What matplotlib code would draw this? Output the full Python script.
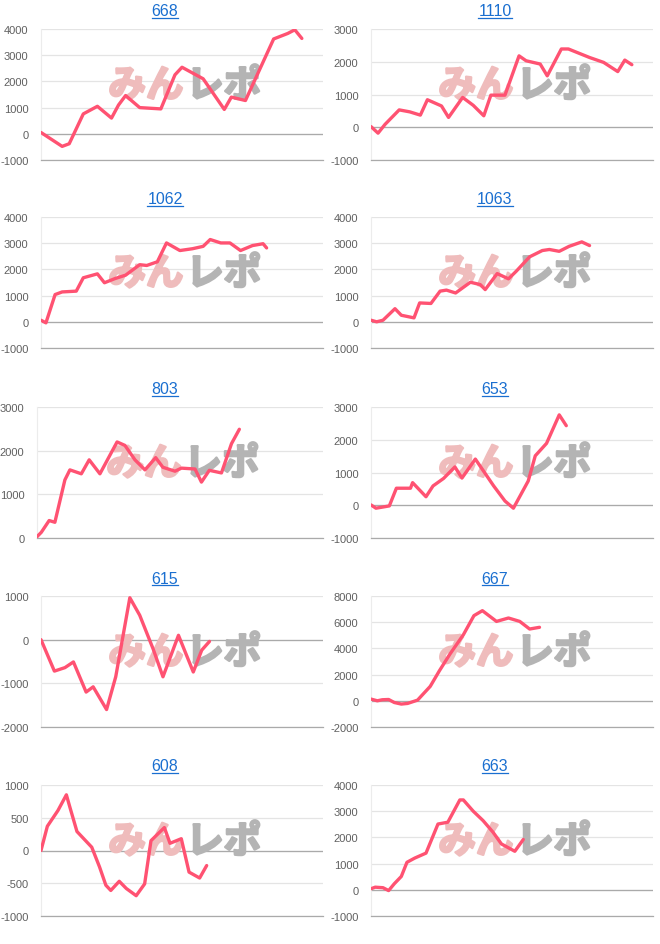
import matplotlib
matplotlib.use('Agg')
import matplotlib.pyplot as plt
import matplotlib.patheffects as pe
from matplotlib.lines import Line2D

plt.rcParams['axes.unicode_minus'] = False

titles = ['668', '1110', '1062', '1063', '803', '653', '615', '667', '608', '663']

# x = day index on a 40-slot axis, y = balance
x_668 = [0, 3, 4, 6, 8, 10, 11, 12, 14, 17, 19, 20, 23, 26, 27, 29, 33, 35, 36, 37]
y_668 = [50, -480, -380, 760, 1050, 600, 1100, 1460, 1000, 950, 2250, 2540, 2100, 930, 1400, 1270,
         3620, 3830, 3970, 3640]

x_1110 = [0, 1, 2, 4, 5.5, 7, 8, 10, 11, 13, 14.5, 16, 17, 19, 21, 22, 24, 25, 27, 28, 31, 33, 35, 36, 37]
y_1110 = [20, -180, 90, 530, 470, 370, 840, 650, 300, 910, 670, 350, 980, 980, 2180, 2030, 1930, 1570,
          2390, 2390, 2130, 1980, 1700, 2050, 1910]

x_1062 = [0, 0.7, 2, 3, 5, 6, 8, 9, 10.5, 12, 14, 15, 16.5, 17.8, 19.7, 21.5, 23, 24, 25.5, 26.8, 28.3, 30,
          31.5, 32]
y_1062 = [60, -40, 1040, 1140, 1170, 1680, 1830, 1490, 1650, 1780, 2180, 2150, 2290, 3010, 2720, 2790, 2880,
          3140, 3010, 3010, 2720, 2910, 2980, 2820]

x_1063 = [0, 0.8, 1.7, 3.4, 4.3, 6.1, 6.9, 8.5, 9.8, 10.7, 12, 14.1, 15.5, 16.2, 17.9, 19.5, 20.6, 22.5,
          24.3, 25.3, 26.7, 28.1, 29.9, 31]
y_1063 = [60, 0, 60, 500, 250, 150, 720, 700, 1170, 1210, 1100, 1510, 1420, 1230, 1840, 1640, 1930, 2480,
          2720, 2760, 2690, 2880, 3050, 2910]

x_803 = [0, 0.6, 1.7, 2.5, 3.9, 4.6, 6.2, 7.3, 8.8, 11.2, 12.3, 13.7, 15.1, 16.6, 17.6, 19.3, 20.2, 22.1,
         23, 24.1, 25.8, 27.2, 28.3]
y_803 = [30, 130, 400, 360, 1330, 1560, 1470, 1790, 1470, 2200, 2120, 1790, 1560, 1840, 1620, 1530, 1600,
         1580, 1280, 1550, 1490, 2160, 2490]

x_653 = [0, 0.7, 1.8, 2.6, 3.6, 5.6, 5.9, 7.8, 8.8, 10.3, 11.9, 12.9, 14.8, 17.4, 19, 20.2, 22.3, 23.3,
         24.9, 26.7, 27.7]
y_653 = [10, -90, -50, -20, 520, 520, 690, 260, 590, 820, 1170, 830, 1410, 590, 130, -90, 740, 1510, 1890,
         2760, 2430]

x_615 = [0, 1.9, 3.4, 4.6, 6.4, 7.4, 9.3, 10.6, 12.6, 14, 15.9, 17.3, 19.5, 21.6, 22.8, 23.9]
y_615 = [0, -720, -640, -510, -1200, -1080, -1600, -850, 960, 560, -210, -850, 100, -740, -240, -40]

x_667 = [0, 0.9, 1.6, 2.5, 3.3, 4.3, 5.2, 6.6, 7.3, 8.4, 9.7, 11.2, 13.1, 14.6, 15.8, 17.8, 19.5, 21.1,
         22.5, 23.9]
y_667 = [130, 0, 80, 100, -130, -250, -200, 50, 460, 1100, 2290, 3570, 5040, 6500, 6880, 6060, 6320, 6060,
         5480, 5610]

x_608 = [0, 0.9, 2.4, 3.6, 4.1, 5.1, 7.2, 8.3, 9.2, 9.9, 11.1, 12.1, 13.5, 14.7, 15.6, 17.5, 18.3, 19.9,
         21, 22.5, 23.5]
y_608 = [0, 370, 610, 850, 660, 290, 50, -250, -530, -610, -470, -580, -690, -510, 150, 350, 110, 180,
         -330, -420, -230]

x_663 = [0, 0.6, 1.7, 2.5, 3.3, 4.3, 5.1, 6.2, 7.8, 9.5, 10.9, 12.6, 13.1, 14.5, 15.9, 17.3, 18.5, 20.4,
         21.6]
y_663 = [40, 100, 80, -30, 230, 510, 1050, 1210, 1400, 2510, 2580, 3430, 3430, 3000, 2640, 2200, 1750,
         1470, 1920]

ticks_668 = [-1000, 0, 1000, 2000, 3000, 4000]
ticks_1110 = [-1000, 0, 1000, 2000, 3000]
ticks_1062 = [-1000, 0, 1000, 2000, 3000, 4000]
ticks_1063 = [-1000, 0, 1000, 2000, 3000, 4000]
ticks_803 = [0, 1000, 2000, 3000]
ticks_653 = [-1000, 0, 1000, 2000, 3000]
ticks_615 = [-2000, -1000, 0, 1000]
ticks_667 = [-2000, 0, 2000, 4000, 6000, 8000]
ticks_608 = [-1000, -500, 0, 500, 1000]
ticks_663 = [-1000, 0, 1000, 2000, 3000, 4000]

xs = [x_668, x_1110, x_1062, x_1063, x_803, x_653, x_615, x_667, x_608, x_663]
ys = [y_668, y_1110, y_1062, y_1063, y_803, y_653, y_615, y_667, y_608, y_663]
ticks = [ticks_668, ticks_1110, ticks_1062, ticks_1063, ticks_803, ticks_653, ticks_615, ticks_667,
         ticks_608, ticks_663]

W, H = 660, 945
fig = plt.figure(figsize=(W / 100, H / 100), dpi=100)
fig.patch.set_facecolor('white')

row_tops = [30, 218, 408, 597, 786]
ax_h = 131
col_left = [41, 371]
ax_right = [323, 653]
title_y = [12, 200, 390, 579, 767]

line_col = '#ff5272'
pink = '#efbcbc'
grey = '#b4b4b4'
titles_txt = []

for i in range(10):
    r, c = i // 2, i % 2
    left = col_left[c]
    if min(ticks[i]) >= 0:
        left -= 4
    width = ax_right[c] - left
    ax = fig.add_axes([left / W, 1 - (row_tops[r] + ax_h) / H, width / W, ax_h / H])
    ax.set_xlim(0, 40)
    ax.set_ylim(min(ticks[i]), max(ticks[i]))
    ax.set_yticks(ticks[i])
    ax.set_xticks([])
    ax.tick_params(axis='y', length=0, pad=9, labelsize=8, labelcolor='#606060')
    for lab in ax.get_yticklabels():
        lab.set_family('Liberation Sans')
    ax.yaxis.grid(True, color='#e4e4e4', lw=0.9)
    ax.set_axisbelow(True)
    for s in ['top', 'right']:
        ax.spines[s].set_visible(False)
    ax.spines['left'].set_color('#ececec')
    ax.spines['bottom'].set_color('#aaaaaa')
    ax.spines['bottom'].set_linewidth(0.9)
    if min(ticks[i]) < 0:
        ax.axhline(0, color='#aaaaaa', lw=0.9, zorder=1)

    # watermark logo
    ax.text(0.505, 0.57, 'みん', transform=ax.transAxes, ha='right', va='center',
            fontsize=27, fontweight='bold', color=pink, family='Noto Sans CJK JP', zorder=1.5,
            path_effects=[pe.withStroke(linewidth=1.8, foreground=pink)])
    ax.text(0.515, 0.57, 'レポ', transform=ax.transAxes, ha='left', va='center',
            fontsize=27, fontweight='bold', color=grey, family='Noto Sans CJK JP', zorder=1.5,
            path_effects=[pe.withStroke(linewidth=1.8, foreground=grey)])

    ax.plot(xs[i], ys[i], color=line_col, lw=2.4, solid_joinstyle='round', solid_capstyle='round',
            zorder=3)

    t = fig.text((165 + 330 * c) / W, 1 - title_y[r] / H, titles[i], ha='center', va='center',
                 fontsize=11.5, color='#1a6fd0', family='Liberation Sans')
    titles_txt.append(t)

# underline the titles like links
fig.canvas.draw()
rend = fig.canvas.get_renderer()
for t in titles_txt:
    bb = t.get_window_extent(rend)
    yb = (bb.y0 + 1) / H
    fig.add_artist(Line2D([bb.x0 / W, bb.x1 / W], [yb, yb], color='#1a6fd0', lw=0.9))

fig.savefig('out.png', dpi=100, facecolor='white')
